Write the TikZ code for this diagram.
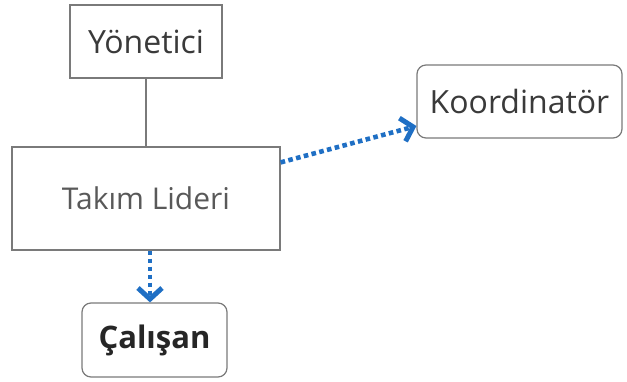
\documentclass[tikz,border=0pt]{standalone}
\usepackage{fontspec}
\setmainfont{Open Sans}
\usetikzlibrary{arrows.meta}
\definecolor{boxline}{HTML}{7A7A7A}
\definecolor{linkblue}{HTML}{1F6FC4}
\definecolor{txt}{HTML}{3A3A3A}
\tikzset{
  sqbox/.style={draw=boxline, line width=1.2pt, fill=white, inner sep=0pt, text=txt},
  rbox/.style={sqbox, rounded corners=9pt},
  link/.style={linkblue, line width=4.6pt, dash pattern=on 4.6pt off 3.4pt,
    -{Straight Barb[length=11pt, width=24pt, line width=5pt, line join=miter]}},
}
\begin{document}
\begin{tikzpicture}[x=1pt, y=-1pt]
  \useasboundingbox (0,0) rectangle (627,382);
  \node[sqbox, minimum width=152pt, minimum height=73pt, font=\fontsize{32}{36}\selectfont]
    (yon) at (146,41.5) {Yönetici};
  \node[sqbox, minimum width=268pt, minimum height=103pt, font=\fontsize{30}{34}\selectfont, text=black!65]
    (lid) at (146,198.5) {Takım Lideri};
  \node[rbox, minimum width=205pt, minimum height=73pt, font=\fontsize{32}{36}\selectfont]
    (koo) at (519.5,101.5) {Koordinatör};
  \node[rbox, minimum width=145pt, minimum height=74pt, font=\fontsize{31}{35}\selectfont\bfseries, text=black!85]
    (cal) at (154.5,340) {Çalışan};
  \draw[boxline, line width=1.2pt] (yon.south) -- (lid.north);
  \draw[link] (lid.north east) ++(0,16) coordinate (k0) -- (koo.west |- 0,126);
  \draw[link] (lid.south) ++(4,0) coordinate (c0) -- (c0 |- cal.north);
\end{tikzpicture}
\end{document}
